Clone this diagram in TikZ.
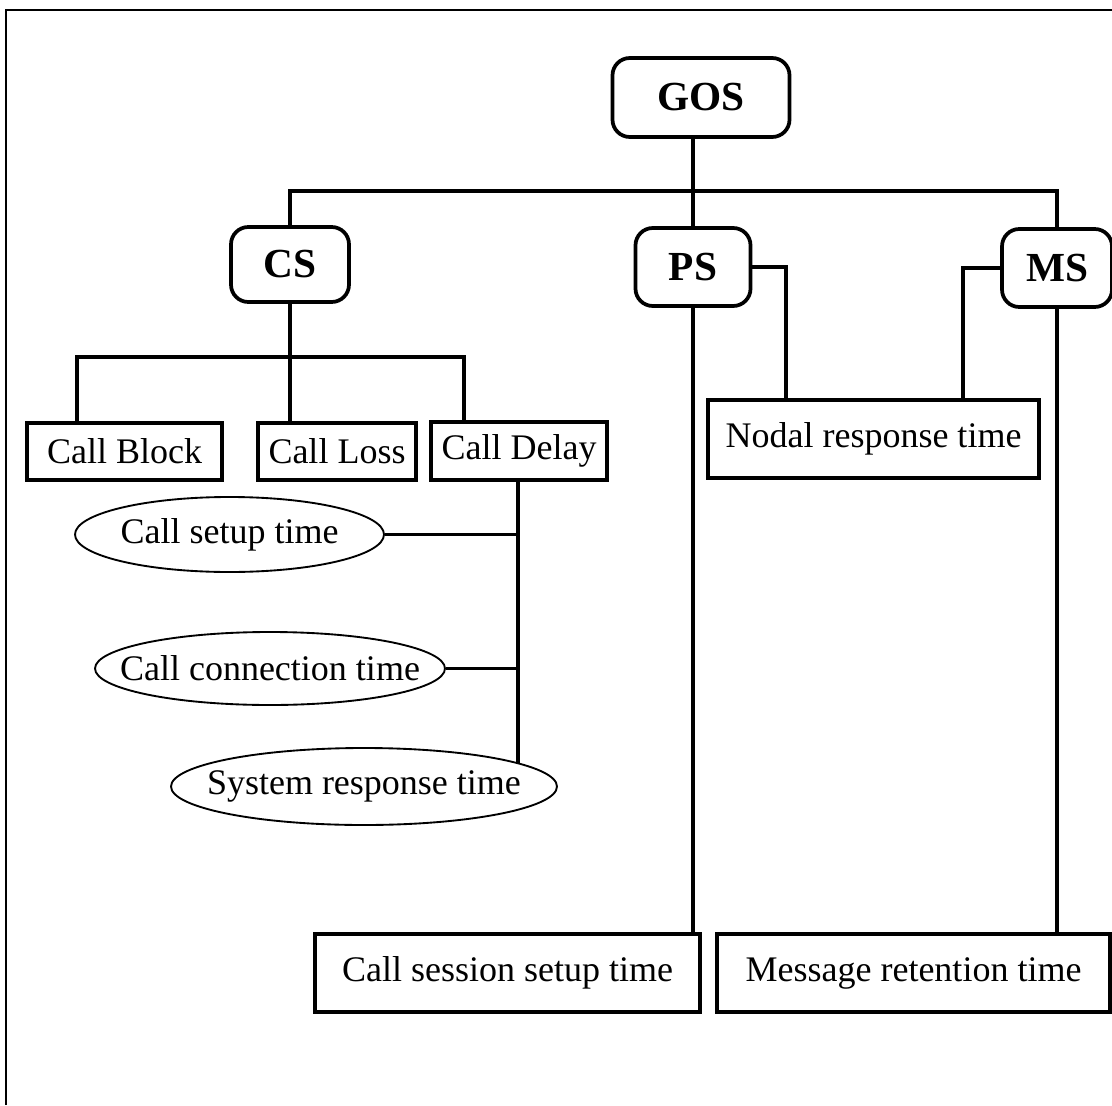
\documentclass[tikz,border=0pt]{standalone}
\usepackage{fontspec}
\setmainfont{Liberation Serif}
\usetikzlibrary{shapes.geometric,calc}

\tikzset{
  txt/.style={font=\fontsize{27}{30}\selectfont, inner sep=2pt},
  headbox/.style={txt, font=\fontsize{31}{34}\selectfont\bfseries, draw, line width=2.8pt, rounded corners=13pt},
  itembox/.style={txt, draw, line width=2.8pt},
  timeoval/.style={txt, draw, ellipse, line width=1.4pt, inner sep=0pt},
  link/.style={line width=2.6pt},
  frame/.style={line width=1.5pt}
}

\begin{document}
\begin{tikzpicture}[x=0.75pt,y=0.75pt,yscale=-1,xscale=1]
\useasboundingbox (0,0) rectangle (1112,1105);

%Straight Lines [frame]
\draw[frame] (6,1105) -- (6,10) -- (1112,10);

% Head nodes
\node[headbox, minimum width=132.75pt, minimum height=59.25pt] (gos) at (701,97.5) {GOS};
\node[headbox, minimum width=88.5pt, minimum height=56.25pt] (cs) at (290,264.5) {CS};
\node[headbox, minimum width=86.25pt, minimum height=58.5pt] (ps) at (693,267) {PS};
\node[headbox, minimum width=82.5pt, minimum height=58.5pt] (ms) at (1057,268) {MS};

% Text Node
\node[itembox, minimum width=146.25pt, minimum height=42.75pt] (block) at (124.5,451.5) {Call Block};
\node[itembox, minimum width=118.5pt, minimum height=42.75pt] (loss) at (337,451.5) {Call Loss};
\node[itembox, minimum width=132pt, minimum height=43.5pt] (delay) at (519,451) {Call Delay};
\node[itembox, minimum width=248.25pt, minimum height=58.5pt] (nodal) at (873.5,439) {Nodal response time};
\node[itembox, minimum width=288.75pt, minimum height=58.5pt] (session) at (507.5,973) {Call session setup time};
\node[itembox, minimum width=294.75pt, minimum height=58.5pt] (retention) at (913.5,973) {Message retention time};

% Ellipse nodes
\node[timeoval, minimum width=231.75pt, minimum height=56.25pt] (setup) at (229.5,534.5) {\makebox[0pt]{Call setup time}};
\node[timeoval, minimum width=262.5pt, minimum height=54.75pt] (connect) at (270,668.5) {\makebox[0pt]{Call connection time}};
\node[timeoval, minimum width=289.5pt, minimum height=57.75pt] (sysresp) at (364,786.5) {\makebox[0pt]{System response time}};

% Junction points
\coordinate (topbus) at (693,191);
\coordinate (tapB) at (77,357);
\coordinate (tapD) at (464,357);
\coordinate (trunk) at (518,764);

%Straight Lines [GOS]
\draw[link] (gos.south -| topbus) -- (ps.north);
\draw[link] (cs.north) |- (topbus) -| (ms.north);

%Straight Lines [CS]
\draw[link] (cs.south) -- (cs.south |- loss.north);
\draw[link] (tapB |- block.north) -- (tapB) -- (tapD) -- (tapD |- delay.north);

%Straight Lines [Call Delay]
\draw[link] (trunk |- delay.south) -- (trunk);
\draw[link] (setup.east) -- (setup.east -| trunk);
\draw[link] (connect.east) -- (connect.east -| trunk);

%Straight Lines [PS, MS]
\draw[link] (ps.south) -- (ps.south |- session.north);
\draw[link] (ps.east) -| ($(nodal.north west)+(80,0)$);
\draw[link] (ms.west) -| ($(nodal.north east)+(-78,0)$);
\draw[link] (ms.south) -- (ms.south |- retention.north);

\end{tikzpicture}
\end{document}
